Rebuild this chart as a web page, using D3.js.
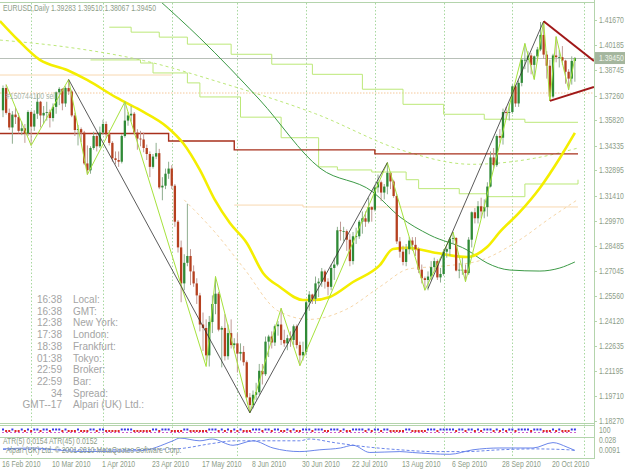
<!DOCTYPE html>
<html lang="en">
<head>
<meta charset="UTF-8" />
<title>EURUSD,Daily</title>
<script src="https://d3js.org/d3.v7.min.js"></script>
<style>
  body { margin: 0; padding: 0; background: #fff; }
  svg { display: block; }
  .axis-text { font-family: "Liberation Sans", Arial, sans-serif; font-size: 8.6px; fill: #8d9d88; }
  .clock { font-family: "Liberation Sans", Arial, sans-serif; font-size: 10px; fill: #a4a4a4; }
</style>
</head>
<body>
<div id="chart"></div>
<script>
// ---- data (bar index 0 = 16 Feb 2010, one bar per trading day) ----
const open = [
  1.3640,1.3770,1.3625,1.3540,1.3615,1.3600,1.3520,1.3535,1.3505,
  1.3630,1.3545,1.3620,1.3690,1.3610,1.3625,1.3630,1.3595,1.3660,1.3745,1.3765,1.3680,1.3770,1.3750,1.3610,1.3525,1.3530,1.3510,1.3330,1.3290,1.3420,1.3490,1.3430,
  1.3510,1.3560,1.3500,1.3450,1.3360,1.3350,1.3340,1.3490,1.3580,1.3610,1.3620,1.3510,1.3475,1.3470,1.3420,1.3385,1.3310,1.3370,1.3390,1.3190,1.3200,1.3270,
  1.3300,1.3200,1.2990,1.2840,1.2630,1.2750,1.2790,1.2700,1.2630,1.2560,1.2390,1.2370,1.2210,1.2405,1.2510,1.2570,1.2360,1.2370,1.2205,1.2340,1.2270,
  1.2280,1.2220,1.2230,1.2170,1.1965,1.1920,1.1980,1.1995,1.2120,1.2100,1.2290,1.2320,1.2285,1.2380,1.2390,1.2300,1.2280,1.2310,1.2300,1.2380,1.2270,1.2210,
  1.2230,1.2520,1.2565,1.2540,1.2630,1.2640,1.2700,1.2640,1.2610,1.2720,1.2740,1.2940,1.2935,1.2935,1.2885,1.2760,1.2905,1.2905,1.2990,1.3010,1.2990,1.3075,
  1.3060,1.3190,1.3220,1.3160,1.3195,1.3275,1.3225,1.3140,1.2875,1.2815,1.2755,1.2830,1.2880,1.2855,1.2830,1.2710,1.2660,1.2650,1.2670,1.2725,1.2760,1.2665,
  1.2685,1.2815,1.2830,1.2890,1.2895,1.2705,1.2710,1.2710,1.2690,1.2885,1.3045,1.3010,1.3080,1.3050,1.3075,1.3195,1.3365,1.3320,1.3490,1.3480,1.3630,1.3625,
  1.3630,1.3780,1.3680,1.3800,1.3935,1.3935,1.3960,1.3905,1.3955,1.3995,1.4080,1.3965,1.3900,1.3720,1.3960,1.3950,1.3950,1.3930,1.3865,1.3825,1.39283
];
const high = [
  1.3785,1.3790,1.3650,1.3635,1.3655,1.3625,1.3575,1.3560,1.3640,
  1.3640,1.3640,1.3735,1.3695,1.3665,1.3690,1.3645,1.3680,1.3750,1.3775,1.3770,1.3780,1.3820,1.3760,1.3625,1.3555,1.3540,1.3520,1.3435,1.3430,1.3515,1.3505,1.3545,
  1.3585,1.3575,1.3525,1.3460,1.3400,1.3400,1.3500,1.3690,1.3630,1.3665,1.3630,1.3530,1.3520,1.3510,1.3440,1.3400,1.3385,1.3450,1.3415,1.3250,1.3300,1.3340,
  1.3320,1.3210,1.3000,1.2880,1.2800,1.3095,1.2830,1.2735,1.2660,1.2575,1.2460,1.2420,1.2440,1.2560,1.2670,1.2580,1.2380,1.2450,1.2390,1.2420,1.2310,
  1.2340,1.2280,1.2265,1.2180,1.1990,1.2005,1.2050,1.2160,1.2160,1.2320,1.2330,1.2350,1.2390,1.2410,1.2485,1.2360,1.2330,1.2350,1.2390,1.2390,1.2290,1.2290,
  1.2530,1.2585,1.2570,1.2670,1.2660,1.2720,1.2710,1.2660,1.2740,1.2780,1.2960,1.2990,1.2960,1.2945,1.2920,1.2930,1.2955,1.3000,1.3050,1.3050,1.3130,1.3080,
  1.3200,1.3265,1.3230,1.3210,1.3335,1.3280,1.3235,1.3150,1.2900,1.2850,1.2860,1.2900,1.2900,1.2900,1.2840,1.2740,1.2670,1.2700,1.2760,1.2780,1.2770,1.2720,
  1.2830,1.2840,1.2900,1.2930,1.2900,1.2750,1.2780,1.2740,1.2900,1.3050,1.3070,1.3110,1.3130,1.3120,1.3220,1.3400,1.3420,1.3500,1.3530,1.3650,1.3660,1.3680,
  1.3790,1.3790,1.3815,1.3945,1.4030,1.3985,1.3975,1.3960,1.4010,1.4155,1.4160,1.3985,1.3935,1.3970,1.4070,1.3990,1.4015,1.3935,1.3880,1.3955,1.39510
];
const low = [
  1.3600,1.3615,1.3525,1.3445,1.3560,1.3505,1.3495,1.3450,1.3490,
  1.3435,1.3520,1.3590,1.3540,1.3560,1.3580,1.3540,1.3575,1.3620,1.3670,1.3640,1.3660,1.3730,1.3600,1.3490,1.3435,1.3455,1.3320,1.3265,1.3270,1.3410,1.3400,1.3420,
  1.3495,1.3480,1.3435,1.3340,1.3325,1.3310,1.3330,1.3480,1.3550,1.3575,1.3500,1.3410,1.3430,1.3395,1.3350,1.3250,1.3300,1.3355,1.3180,1.3115,1.3180,1.3240,
  1.3180,1.2960,1.2810,1.2520,1.2590,1.2730,1.2620,1.2610,1.2510,1.2350,1.2235,1.2180,1.2145,1.2340,1.2450,1.2350,1.2140,1.2180,1.2185,1.2250,1.2250,
  1.2110,1.2180,1.2150,1.1960,1.1875,1.1900,1.1950,1.1980,1.2040,1.2090,1.2200,1.2250,1.2265,1.2325,1.2270,1.2260,1.2240,1.2260,1.2270,1.2250,1.2150,1.2180,
  1.2210,1.2470,1.2510,1.2510,1.2550,1.2610,1.2600,1.2560,1.2590,1.2650,1.2730,1.2880,1.2875,1.2820,1.2730,1.2740,1.2860,1.2890,1.2920,1.2960,1.2980,1.2990,
  1.3050,1.3160,1.3110,1.3120,1.3150,1.3180,1.3130,1.2860,1.2780,1.2735,1.2730,1.2800,1.2820,1.2790,1.2690,1.2630,1.2590,1.2590,1.2650,1.2700,1.2650,1.2635,
  1.2675,1.2780,1.2790,1.2860,1.2700,1.2660,1.2680,1.2640,1.2680,1.2840,1.2980,1.2980,1.3010,1.3010,1.3020,1.3190,1.3300,1.3310,1.3450,1.3440,1.3590,1.3580,
  1.3620,1.3660,1.3660,1.3780,1.3880,1.3860,1.3850,1.3820,1.3930,1.3985,1.3940,1.3825,1.3695,1.3710,1.3920,1.3890,1.3905,1.3795,1.3760,1.3790,1.38067
];
const close = [
  1.3770,1.3625,1.3540,1.3615,1.3600,1.3520,1.3535,1.3505,1.3630,
  1.3545,1.3620,1.3690,1.3610,1.3625,1.3630,1.3595,1.3660,1.3745,1.3765,1.3680,1.3770,1.3750,1.3610,1.3525,1.3530,1.3510,1.3330,1.3290,1.3420,1.3490,1.3430,1.3510,
  1.3560,1.3500,1.3450,1.3360,1.3350,1.3340,1.3490,1.3580,1.3610,1.3620,1.3510,1.3475,1.3470,1.3420,1.3385,1.3310,1.3370,1.3390,1.3190,1.3200,1.3270,1.3300,
  1.3200,1.2990,1.2840,1.2630,1.2750,1.2790,1.2700,1.2630,1.2560,1.2390,1.2370,1.2210,1.2405,1.2510,1.2570,1.2360,1.2370,1.2205,1.2340,1.2270,1.2280,
  1.2220,1.2230,1.2170,1.1965,1.1920,1.1980,1.1995,1.2120,1.2100,1.2290,1.2320,1.2285,1.2380,1.2390,1.2300,1.2280,1.2310,1.2300,1.2380,1.2270,1.2210,1.2230,
  1.2520,1.2565,1.2540,1.2630,1.2640,1.2700,1.2640,1.2610,1.2720,1.2740,1.2940,1.2935,1.2935,1.2885,1.2760,1.2905,1.2905,1.2990,1.3010,1.2990,1.3075,1.3060,
  1.3190,1.3220,1.3160,1.3195,1.3275,1.3225,1.3140,1.2875,1.2815,1.2755,1.2830,1.2880,1.2855,1.2830,1.2710,1.2660,1.2650,1.2670,1.2725,1.2760,1.2665,1.2685,
  1.2815,1.2830,1.2890,1.2895,1.2705,1.2710,1.2710,1.2690,1.2885,1.3045,1.3010,1.3080,1.3050,1.3075,1.3195,1.3365,1.3320,1.3490,1.3480,1.3630,1.3625,1.3630,
  1.3780,1.3680,1.3800,1.3935,1.3935,1.3960,1.3905,1.3955,1.3995,1.4080,1.3965,1.3900,1.3720,1.3960,1.3950,1.3950,1.3930,1.3865,1.3825,1.39283,1.39450
];

// axis labels
const priceTicks = [1.41670,1.40185,1.38745,1.37260,1.35820,1.34335,1.32895,1.31410,1.29970,1.28485,1.27045,1.25560,1.24120,1.22635,1.21195,1.19710,1.18270];
const dateLabels = ["16 Feb 2010","10 Mar 2010","1 Apr 2010","23 Apr 2010","17 May 2010","8 Jun 2010","30 Jun 2010","22 Jul 2010","13 Aug 2010","6 Sep 2010","28 Sep 2010","20 Oct 2010"];
const dateLabelIdx = [0,16,32,48,64,80,96,112,128,144,160,176];
const gridIdx = [9,32,54,75,97,119,141,163,186];
const bidPrice = 1.39450;
const orderPrice = 1.3741;

// indicator lines: [bar index, price]
const maYellow = [[-1,1.4161],[4.8,1.4050],[11.8,1.3934],[20.5,1.3875],[26.9,1.3817],[36.5,1.3712],[43.8,1.3642],[52.5,1.3543],[57.6,1.3449],[63,1.3292],[67.8,1.3117],[72.6,1.2982],[78,1.2866],[83.2,1.2691],[88.6,1.2609],[96,1.2533],[99.2,1.2533],[104.6,1.2551],[112,1.2638],[120.6,1.2737],[124.8,1.2831],[129.3,1.2837],[138.9,1.2807],[148.5,1.2784],[154.9,1.2842],[159,1.2930],[165.4,1.3047],[171.8,1.3187],[178.2,1.3362],[183,1.3508]];
const maGreen = [[49.5,1.4290],[63,1.4062],[82.2,1.3700],[101.4,1.3303],[118.4,1.3163],[127,1.3018],[136.6,1.2912],[148.5,1.2825],[154.9,1.2749],[162.2,1.2708],[171.8,1.2702],[178.2,1.2720],[183,1.2755]];
const stepRed = [[-1,1.3505],[53,1.3461],[74,1.3409],[119,1.3386],[184,1.3386]];
const stepPaleA = [[-1,1.3846],[54,1.3846]];
const stepPaleB = [[74,1.3087],[96,1.3076],[184,1.3076]];
const stepLimeA = [[34,1.4125],[41,1.4096],[50,1.4067],[59,1.4026],[73,1.3967],[86,1.3909],[99,1.3850],[115,1.3763],[128,1.3675],[141,1.3617],[154,1.3588],[167,1.3570],[184,1.3570]];
const stepLimeB = [[28,1.3934],[44,1.3916],[48,1.3858],[59,1.3800],[63,1.3718],[76,1.3600],[89,1.3480],[101,1.3310],[107,1.3292],[118,1.3280],[129,1.3235],[133,1.3183],[146,1.3153],[155,1.3136],[167,1.3210],[184,1.3235]];
const dashLime = [[-1,1.4050],[20,1.4010],[45,1.3930],[70,1.3800],[100,1.3620],[128,1.3405],[150,1.3325],[170,1.3360],[184,1.3420]];
const dashPale = [[58,1.3117],[68,1.2925],[77,1.2720],[88,1.2470],[98,1.2420],[110,1.2480],[121,1.2615],[130,1.2715],[140,1.2730],[152,1.2760],[165,1.2880],[175,1.3010],[184,1.3120]];
const zigBlack = [
  [[21,1.3820],[79,1.1875],[123,1.3335]],
  [[136,1.2600],[173,1.4160]]
];
const zigLime = [[1,1.3790],[9,1.3435],[21,1.3820],[27,1.3265],[39,1.3690],[65,1.2145],[68,1.2670],[79,1.1875],[89,1.2485],[95,1.2150],[123,1.3335],[135,1.2590],[144,1.2930],[148,1.2640],[167,1.4030],[170,1.3820],[173,1.4160],[175,1.3695],[177,1.4070],[181,1.3760],[183,1.3945]];
const triUpper = [[173,1.4160],[189.1,1.3928]];
const triLower = [[175,1.3695],[189.1,1.3776]];

// ATR sub-window: [bar index, value]
const atrLabels = [0.028, 0.0091];
const atrFast = [[0,0.017],[9.6,0.018],[24.6,0.014],[44,0.015],[54.4,0.026],[56.6,0.029],[63,0.026],[67,0.028],[73.6,0.021],[80,0.026],[86.4,0.018],[95,0.014],[101.4,0.016],[108,0.018],[112,0.021],[117.4,0.013],[127,0.014],[131,0.013],[143,0.011],[150.4,0.016],[159,0.018],[169.6,0.018],[176,0.024],[180.5,0.019],[183,0.0154]];
const atrSlow = [[0,0.0165],[30,0.016],[55,0.017],[67,0.023],[74,0.026],[95,0.026],[98,0.028],[106,0.024],[117,0.019],[127,0.016],[138,0.014],[148,0.014],[159,0.016],[170,0.017],[181,0.016],[183,0.0152]];

const clockTimes = ["16:38","16:38","12:38","17:38","18:38","01:38","22:59","22:59","34","GMT--17"];
const clockNames = ["Local:","GMT:","New York:","London:","Frankfurt:","Tokyo:","Broker:","Bar:","Spread:","Alpari (UK) Ltd.:"];

// ---- layout ----
const W = 625, H = 469;
const plotRight = 594, plotTop = 3, plotBottom = 423;
const squeeze = 0.8; // terminal font is narrower than the installed sans

const svg = d3.select("#chart").append("svg").attr("width", W).attr("height", H);

const x = d3.scaleLinear().domain([0, 183]).range([3, 3 + 183 * 3.125]);
const y = d3.scaleLinear()
  .domain([priceTicks[priceTicks.length - 1], priceTicks[0]])
  .range([421, 20]);
const yAtr = d3.scaleLinear().domain([atrLabels[1], atrLabels[0]]).range([456, 439]);

function label(parent, tx, ty, str, fill) {
  const t = parent.append("text").attr("class", "axis-text")
    .attr("transform", `translate(${tx},${ty}) scale(${squeeze},1)`)
    .text(str);
  if (fill) t.style("fill", fill);
  return t;
}

const defs = svg.append("defs");
defs.append("clipPath").attr("id", "plot-clip")
  .append("rect").attr("x", 0).attr("y", plotTop).attr("width", plotRight).attr("height", plotBottom - plotTop);
defs.append("clipPath").attr("id", "atr-clip")
  .append("rect").attr("x", 0).attr("y", 438).attr("width", plotRight).attr("height", 20);

// frame
const frameColor = "#b4d4ac";
svg.append("line").attr("x1", plotRight + 0.5).attr("x2", plotRight + 0.5).attr("y1", 0).attr("y2", 459)
  .attr("stroke", frameColor);
[2.5, 423.5, 425.5, 437.5, 458.5].forEach(v => {
  svg.append("line").attr("x1", 0).attr("x2", plotRight).attr("y1", v).attr("y2", v)
    .attr("stroke", frameColor);
});

// vertical grid
svg.append("g").selectAll("line").data(gridIdx).join("line")
  .attr("x1", d => Math.round(x(d)) + 0.5).attr("x2", d => Math.round(x(d)) + 0.5)
  .attr("y1", plotTop).attr("y2", 458)
  .attr("stroke", "#a8d8a0").attr("stroke-dasharray", "1.5,2");

const plot = svg.append("g").attr("clip-path", "url(#plot-clip)");
const line = d3.line().x(d => x(d[0])).y(d => y(d[1]));
const stepLine = d3.line().x(d => x(d[0])).y(d => y(d[1])).curve(d3.curveStepAfter);
const smooth = d3.line().x(d => x(d[0])).y(d => y(d[1])).curve(d3.curveMonotoneX);

// order line and bid line
plot.append("line").attr("x1", 0).attr("x2", plotRight)
  .attr("y1", y(orderPrice)).attr("y2", y(orderPrice))
  .attr("stroke", "#f5c89a").attr("stroke-dasharray", "1.5,1.5");
plot.append("line").attr("x1", 0).attr("x2", plotRight)
  .attr("y1", Math.round(y(bidPrice)) + 0.5).attr("y2", Math.round(y(bidPrice)) + 0.5)
  .attr("stroke", "#b8c0b8");

// pale step lines and pale dashed average
[stepPaleA, stepPaleB].forEach(s => {
  plot.append("path").attr("d", stepLine(s)).attr("fill", "none")
    .attr("stroke", "#f8d8b0").attr("stroke-width", 1);
});
plot.append("path").attr("d", smooth(dashPale)).attr("fill", "none")
  .attr("stroke", "#f6d6a8").attr("stroke-width", 1).attr("stroke-dasharray", "3,3");

// lime step lines and dashed lime average
[stepLimeA, stepLimeB].forEach(s => {
  plot.append("path").attr("d", stepLine(s)).attr("fill", "none")
    .attr("stroke", "#bce878").attr("stroke-width", 1);
});
plot.append("path").attr("d", smooth(dashLime)).attr("fill", "none")
  .attr("stroke", "#bce878").attr("stroke-width", 1).attr("stroke-dasharray", "3,3");

// dark red step line
plot.append("path").attr("d", stepLine(stepRed)).attr("fill", "none")
  .attr("stroke", "#a8301c").attr("stroke-width", 1.4);

// long green average
plot.append("path").attr("d", smooth(maGreen)).attr("fill", "none")
  .attr("stroke", "#3c9a46").attr("stroke-width", 1);

// yellow average
plot.append("path").attr("d", smooth(maYellow)).attr("fill", "none")
  .attr("stroke", "#f4ee00").attr("stroke-width", 2.6);

// candles
const bars = d3.range(open.length);
plot.append("g").selectAll("line").data(bars).join("line")
  .attr("x1", i => x(i)).attr("x2", i => x(i))
  .attr("y1", i => y(high[i])).attr("y2", i => y(low[i]))
  .attr("stroke", i => close[i] >= open[i] ? "#8fae8f" : "#c09a94")
  .attr("stroke-width", 1);
plot.append("g").selectAll("rect").data(bars).join("rect")
  .attr("x", i => x(i) - 1.15)
  .attr("width", 2.3)
  .attr("y", i => y(Math.max(open[i], close[i])))
  .attr("height", i => Math.max(0.8, Math.abs(y(open[i]) - y(close[i]))))
  .attr("fill", i => close[i] >= open[i] ? "#2f8a36" : "#b5401f");

// zigzags
plot.append("path").attr("d", line(zigLime)).attr("fill", "none")
  .attr("stroke", "#a6e23c").attr("stroke-width", 1);
zigBlack.forEach(seg => {
  plot.append("path").attr("d", line(seg)).attr("fill", "none")
    .attr("stroke", "#303030").attr("stroke-width", 0.8);
});

// triangle
[triUpper, triLower].forEach(t => {
  plot.append("path").attr("d", line(t)).attr("fill", "none")
    .attr("stroke", "#a01818").attr("stroke-width", 2);
});

// title and order label
label(svg, 3, 11, "EURUSD,Daily  " + [open[183], high[183], low[183], close[183]].map(v => v.toFixed(5)).join(" "));
label(svg, 6, y(orderPrice) + 6, "#150744100 sell", "#a8b4a8");

// price axis
const yAxisG = svg.append("g");
yAxisG.selectAll("line").data(priceTicks).join("line")
  .attr("x1", plotRight).attr("x2", plotRight + 3)
  .attr("y1", d => Math.round(y(d)) + 0.5).attr("y2", d => Math.round(y(d)) + 0.5)
  .attr("stroke", frameColor);
priceTicks.forEach(d => label(yAxisG, 599, y(d) + 3, d.toFixed(5)));

// bid label
svg.append("rect").attr("x", plotRight + 1).attr("y", y(bidPrice) - 6)
  .attr("width", W - plotRight - 1).attr("height", 12).attr("fill", "#a4b69e");
label(svg, 599, y(bidPrice) + 3, bidPrice.toFixed(5), "#eef4ea");

// date axis
const dateG = svg.append("g");
dateLabels.forEach((d, i) => label(dateG, x(dateLabelIdx[i]) - 1, 467, d));

// second sub-window: direction dots
const dots = svg.append("g");
dots.append("line").attr("x1", 2).attr("x2", 578).attr("y1", 432.5).attr("y2", 432.5)
  .attr("stroke", "#d060d0").attr("stroke-dasharray", "2,2");
dots.selectAll("rect").data(bars).join("rect")
  .attr("x", i => x(i) - 1).attr("width", 2)
  .attr("y", i => close[i] >= open[i] ? 428.5 : 430)
  .attr("height", 2)
  .attr("fill", i => close[i] >= open[i] ? "#3838e8" : "#e02828");
label(svg, 599, 433, "100");

// ATR sub-window
const atrG = svg.append("g").attr("clip-path", "url(#atr-clip)");
const atrLine = d3.line().x(d => x(d[0])).y(d => yAtr(d[1])).curve(d3.curveMonotoneX);
atrG.append("path").attr("d", atrLine(atrSlow)).attr("fill", "none")
  .attr("stroke", "#5a78e8").attr("stroke-width", 0.9).attr("stroke-dasharray", "3,2");
atrG.append("path").attr("d", atrLine(atrFast)).attr("fill", "none")
  .attr("stroke", "#5a78e8").attr("stroke-width", 0.9);
label(svg, 3, 444, "ATR(5) " + atrFast[atrFast.length - 1][1].toFixed(4) + "  ATR(45) " + atrSlow[atrSlow.length - 1][1].toFixed(4));
label(svg, 6, 453, "Alpari (UK) Ltd. \u00A9 2001-2010 MetaQuotes Software Corp.");
label(svg, 599, 443, String(atrLabels[0]));
label(svg, 599, 453, String(atrLabels[1]));

// clock block
const clock = svg.append("g");
clock.selectAll("text.t").data(clockTimes).join("text")
  .attr("class", "clock t").attr("text-anchor", "end")
  .attr("x", 62).attr("y", (d, i) => 303 + i * 11.7).text(d => d);
clock.selectAll("text.n").data(clockNames).join("text")
  .attr("class", "clock n")
  .attr("x", 73).attr("y", (d, i) => 303 + i * 11.7).text(d => d);
</script>
</body>
</html>
